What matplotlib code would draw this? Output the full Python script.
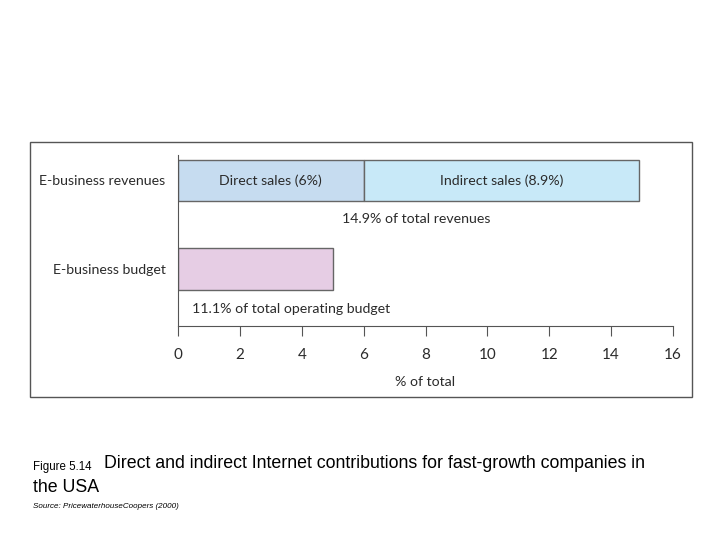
import matplotlib.pyplot as plt
import matplotlib.patches as patches

# data
categories = ['E-business budget', 'E-business revenues']
direct_sales = [0, 6.0]
indirect_sales = [0, 8.9]
budget = [5.0, 0]
seg_labels = ['Direct sales (6%)', 'Indirect sales (8.9%)']
xticks = [0, 2, 4, 6, 8, 10, 12, 14, 16]

plt.rcParams['font.family'] = ['Lato', 'DejaVu Sans']

fig = plt.figure(figsize=(7.2, 5.4), dpi=100)
fig.patch.set_facecolor('white')

# frame around the chart
fig.patches.append(patches.Rectangle((30/720, 1-397/540), 662/720, 255/540,
                                     transform=fig.transFigure, fill=False,
                                     edgecolor='#555555', linewidth=1.0))

ax = fig.add_axes([178/720, 1-326/540, 495/720, 171/540])
edge = '#666666'
h = 0.47
fs = 10.2
tc = '#2b2b2b'
ax.barh(1, direct_sales[1], height=h, color='#c6dcf0', edgecolor=edge, linewidth=1)
ax.barh(1, indirect_sales[1], left=direct_sales[1], height=h, color='#c8e9f8',
        edgecolor=edge, linewidth=1)
ax.barh(0, budget[0], height=h, color='#e6cde4', edgecolor=edge, linewidth=1)

ax.text(direct_sales[1]/2, 1, seg_labels[0], ha='center', va='center', fontsize=fs, color=tc)
ax.text(direct_sales[1] + indirect_sales[1]/2, 1, seg_labels[1], ha='center', va='center',
        fontsize=fs, color=tc)
ax.text(7.7, 0.57, '14.9% of total revenues', ha='center', va='center', fontsize=fs, color=tc)
ax.text(0.45, -0.45, '11.1% of total operating budget', ha='left', va='center',
        fontsize=fs, color=tc)

ax.set_xlim(0, 16)
ax.set_ylim(-0.644, 1.288)
ax.set_xticks(xticks)
ax.set_xticklabels([str(t) for t in xticks], fontsize=11, color=tc)
ax.set_yticks([0, 1])
ax.set_yticklabels(categories, fontsize=fs, color=tc)
ax.tick_params(axis='y', length=0, pad=9)
ax.tick_params(axis='x', length=7, color='#555555', pad=9)
ax.set_xlabel('% of total', fontsize=fs, color=tc, labelpad=10)
for s in ['top', 'right']:
    ax.spines[s].set_visible(False)
for s in ['left', 'bottom']:
    ax.spines[s].set_color('#555555')
ax.set_facecolor('none')

# caption
fig.text(33/720, 1-467/540, 'Figure 5.14', fontsize=8.3, family='Liberation Sans', va='center')
fig.text(104/720, 1-464/540, 'Direct and indirect Internet contributions for fast-growth companies in',
         fontsize=12.8, family='Liberation Sans', va='center')
fig.text(33/720, 1-487/540, 'the USA', fontsize=12.8, family='Liberation Sans', va='center')
fig.text(33/720, 1-506/540, 'Source: PricewaterhouseCoopers (2000)', fontsize=5.8,
         family='Liberation Sans', style='italic', va='center')

fig.savefig('out.png', dpi=100)
